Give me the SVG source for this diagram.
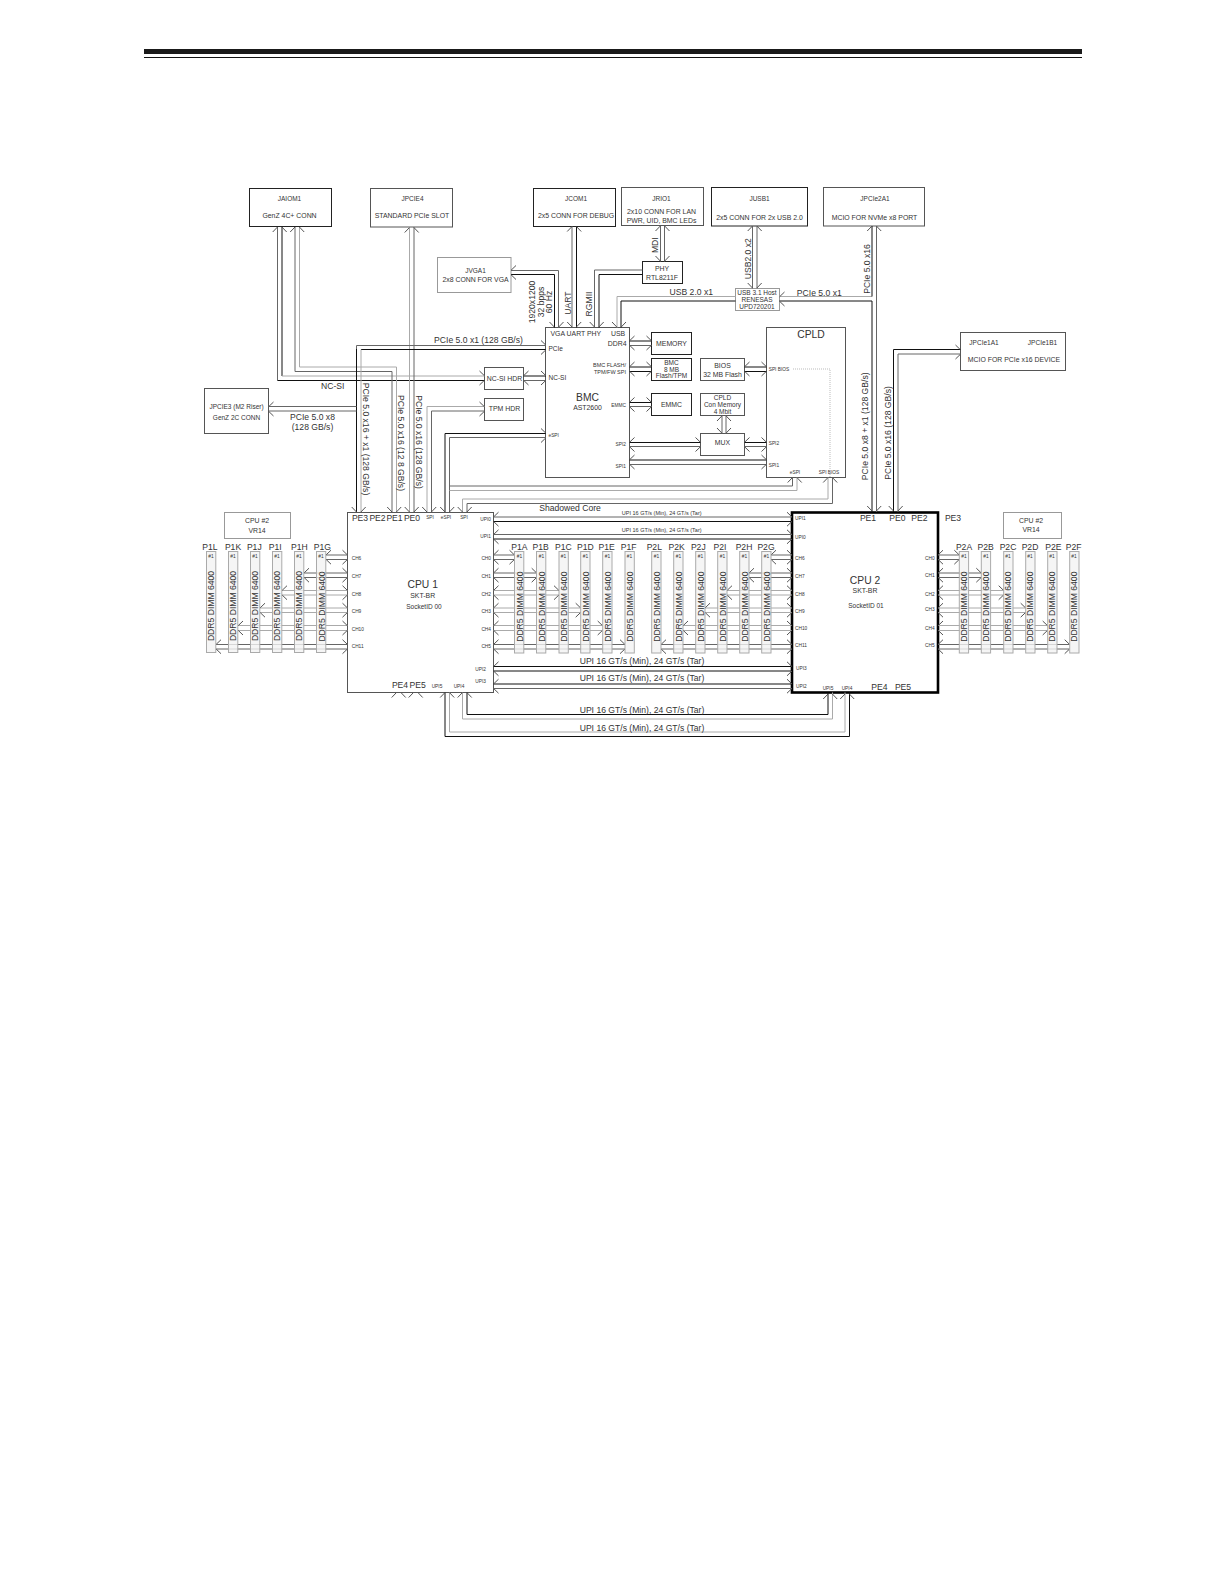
<svg xmlns="http://www.w3.org/2000/svg" width="1224" height="1584" viewBox="0 0 1224 1584">
<style>
text{font-family:"Liberation Sans",Arial,sans-serif;fill:#333;text-anchor:middle;dominant-baseline:central}
.s{text-anchor:start}.e{text-anchor:end}
.f4{font-size:4.8px}.f5{font-size:5.5px}.f6{font-size:6.5px}.f7{font-size:6.9px}.f8{font-size:8.6px}.f10{font-size:10.3px}
.nk,.ng,.nm{fill:#fff}.nk{stroke:#222}.ng{stroke:#999}.nm{stroke:#555}
.dm{fill:#f3f3f3;fill-opacity:.8;stroke:#aaa}
.k,.m,.g,.h{fill:none;stroke-width:1}
.k{stroke:#111}.m{stroke:#666}.g{stroke:#aaa}.h{stroke:#555}
</style>
<defs>
<path id="u" class="h" d="M-7 5L-2.2 0M7 5L2.2 0"/>
<path id="d" class="h" d="M-7 -5L-2.2 0M7 -5L2.2 0"/>
<path id="l" class="h" d="M5 -7L0 -2.2M5 7L0 2.2"/>
<path id="r" class="h" d="M-5 -7L0 -2.2M-5 7L0 2.2"/>
</defs>
<g id="header-rule"><rect x="144" y="49" width="938" height="5" fill="#1a1a1a"/><rect x="144" y="57" width="938" height="1" fill="#111"/></g>

<g id="JAIOM1"><rect class="nk" x="249.5" y="188.5" width="82" height="38"/><text class="f6" x="289.5" y="198.5">JAIOM1</text><text class="f7" x="289.5" y="215">GenZ 4C+ CONN</text></g>
<g id="JPCIE4"><rect class="nm" x="370.5" y="188.5" width="82" height="38.5"/><text class="f6" x="412.5" y="198.5">JPCIE4</text><text class="f7" x="412" y="215">STANDARD PCIe SLOT</text></g>
<g id="JCOM1"><rect class="nk" x="533.5" y="188.5" width="82" height="38"/><text class="f6" x="576" y="198.5">JCOM1</text><text class="f7" x="576" y="215">2x5 CONN FOR DEBUG</text></g>
<g id="JRIO1"><rect class="nm" x="621.5" y="187.5" width="82" height="38"/><text class="f6" x="661.5" y="198.5">JRIO1</text><text class="f7" x="661.5" y="211.5">2x10 CONN FOR LAN</text><text class="f7" x="661.5" y="220.5">PWR, UID, BMC LEDs</text></g>
<g id="JUSB1"><rect class="nk" x="711.5" y="187.5" width="96" height="38.5"/><text class="f6" x="759.5" y="198.5">JUSB1</text><text class="f7" x="759.5" y="217.5">2x5 CONN FOR 2x USB 2.0</text></g>
<g id="JPCIe2A1"><rect class="nm" x="823.5" y="187.5" width="101" height="38.5"/><text class="f6" x="875" y="198.5">JPCIe2A1</text><text class="f7" x="874.5" y="217.5">MCIO FOR NVMe x8 PORT</text></g>
<g id="JPCIe1A1"><rect class="nm" x="960.5" y="332.5" width="105" height="38"/><text class="f6" x="984" y="342.5">JPCIe1A1</text><text class="f6" x="1042.5" y="342.5">JPCIe1B1</text><text class="f7" x="1014" y="359.5">MCIO FOR PCIe x16 DEVICE</text></g>
<g id="JVGA1"><rect class="ng" x="437.5" y="257.5" width="73.5" height="35"/><text class="f6" x="475.5" y="270">JVGA1</text><text class="f7" x="475.5" y="279.5">2x8 CONN FOR VGA</text></g>
<g id="JPCIE3"><rect class="nm" x="204.5" y="388.5" width="64" height="45"/><text class="f6" x="236.5" y="406.5">JPCIE3 (M2 Riser)</text><text class="f6" x="236.5" y="417.5">GenZ 2C CONN</text></g>
<g id="NC-SI-HDR"><rect class="nm" x="484.5" y="367.5" width="39" height="22"/><text class="f7" x="504.5" y="378.5">NC-SI HDR</text></g>
<g id="TPM-HDR"><rect class="nm" x="484.5" y="398.5" width="39" height="22"/><text class="f7" x="504.5" y="408.5">TPM HDR</text></g>
<g id="PHY"><rect class="nk" x="642.5" y="261.5" width="40" height="22"/><text class="f7" x="662" y="268">PHY</text><text class="f7" x="662" y="277.5">RTL8211F</text></g>
<g id="USB-HOST"><rect class="ng" x="735.5" y="288.5" width="44" height="22"/><text class="f6" x="757" y="292">USB 3.1 Host</text><text class="f6" x="757" y="299.5">RENESAS</text><text class="f6" x="757" y="306.5">UPD720201</text></g>
<g id="BMC"><rect class="nm" x="545.5" y="327.5" width="84" height="150"/>
<text class="f7 s" x="550.5" y="333.7">VGA UART PHY</text><text class="f7" x="618" y="333.7">USB</text><text class="f7 e" x="626.5" y="343.5">DDR4</text><text class="f6 s" x="548.5" y="348.5">PCIe</text><text class="f6 s" x="548.5" y="377.5">NC-SI</text><text class="f5 e" x="626" y="365">BMC FLASH/</text><text class="f5 e" x="626" y="372">TPM/FW SPI</text><text class="f10" x="587.5" y="397">BMC</text><text class="f7" x="587.5" y="407.5">AST2600</text><text class="f4 e" x="626" y="405">EMMC</text><text class="f4 s" x="548.5" y="435">eSPI</text><text class="f4 e" x="626" y="444">SPI2</text><text class="f4 e" x="626" y="466">SPI1</text></g>
<g id="CPLD"><rect class="nm" x="766.5" y="327.5" width="79" height="150"/><text class="f10" x="811" y="334">CPLD</text><text class="f4 s" x="768.7" y="369">SPI BIOS</text><text class="f4 s" x="768.7" y="443">SPI2</text><text class="f4 s" x="768.7" y="465.5">SPI1</text><text class="f4" x="795" y="472">eSPI</text><text class="f4" x="829" y="472">SPI BIOS</text><path d="M793 369H830V477" fill="none" stroke="#bbb" stroke-width="1" stroke-dasharray="1 1"/></g>
<g id="MEMORY"><rect class="nk" x="651.5" y="332.5" width="40" height="22"/><text class="f7" x="671.5" y="343.5">MEMORY</text></g>
<g id="BMC-FLASH"><rect class="nk" x="651.5" y="358.5" width="40" height="22"/><text class="f6" x="671.5" y="362.7">BMC</text><text class="f6" x="671.5" y="369">8 MB</text><text class="f6" x="671.5" y="375.7">Flash/TPM</text></g>
<g id="BIOS"><rect class="nm" x="700.5" y="358.5" width="44" height="22"/><text class="f7" x="722.5" y="365">BIOS</text><text class="f7" x="722.5" y="374">32 MB Flash</text></g>
<g id="EMMC"><rect class="nk" x="651.5" y="393.5" width="40" height="22"/><text class="f7" x="671.5" y="404.5">EMMC</text></g>
<g id="CPLD-MEM"><rect class="nm" x="700.5" y="393.5" width="44" height="22"/><text class="f6" x="722.5" y="397.7">CPLD</text><text class="f6" x="722.5" y="404.7">Con Memory</text><text class="f6" x="722.5" y="411.7">4 Mbit</text></g>
<g id="MUX"><rect class="nm" x="700.5" y="433.5" width="44" height="22"/><text class="f7" x="722.5" y="442.7">MUX</text></g>
<g id="CPU2-VR-L"><rect class="ng" x="224.5" y="512.5" width="66" height="26"/><text class="f7" x="257" y="520">CPU #2</text><text class="f7" x="257" y="530">VR14</text></g>
<g id="CPU2-VR-R"><rect class="ng" x="1003.5" y="512.5" width="58" height="26"/><text class="f7" x="1031" y="520">CPU #2</text><text class="f7" x="1031" y="529">VR14</text></g>

<g id="CPU1"><rect class="nm" x="347.5" y="512.5" width="146" height="180"/>
<text class="f8" x="360" y="518">PE3</text><text class="f8" x="377.5" y="518">PE2</text><text class="f8" x="394.5" y="518">PE1</text><text class="f8" x="412" y="518">PE0</text><text class="f4" x="430" y="517">SPI</text><text class="f4" x="446" y="517">eSPI</text><text class="f4" x="464" y="517">SPI</text>
<text class="f10" x="422.7" y="584.7">CPU 1</text><text class="f7" x="422.7" y="595">SKT-BR</text><text class="f6" x="424" y="606.7">SocketID  00</text>
<text class="f4 s" x="351.7" y="558.7">CH6</text><text class="f4 s" x="351.7" y="576.7">CH7</text><text class="f4 s" x="351.7" y="594">CH8</text><text class="f4 s" x="351.7" y="611.3">CH9</text><text class="f4 s" x="351.7" y="629">CH10</text><text class="f4 s" x="351.7" y="646.7">CH11</text>
<text class="f4 e" x="491" y="519">UPI0</text><text class="f4 e" x="491" y="536">UPI1</text><text class="f4 e" x="491" y="558.7">CH0</text><text class="f4 e" x="491" y="576.7">CH1</text><text class="f4 e" x="491" y="594">CH2</text><text class="f4 e" x="491" y="611.3">CH3</text><text class="f4 e" x="491" y="629">CH4</text><text class="f4 e" x="491" y="646.7">CH5</text><text class="f4 e" x="486" y="669">UPI2</text><text class="f4 e" x="486" y="681.7">UPI3</text>
<text class="f8" x="400" y="685.3">PE4</text><text class="f8" x="417.7" y="685.3">PE5</text><text class="f4" x="437" y="686">UPI5</text><text class="f4" x="459" y="686">UPI4</text></g>

<g id="CPU2"><rect x="792" y="512.5" width="146" height="180" fill="#fff" stroke="#000" stroke-width="2.6"/>
<text class="f8" x="868" y="518.3">PE1</text><text class="f8" x="897.3" y="518.3">PE0</text><text class="f8" x="919.3" y="518.3">PE2</text><text class="f8" x="953" y="518.3">PE3</text>
<text class="f10" x="865" y="580">CPU 2</text><text class="f7" x="865" y="590.7">SKT-BR</text><text class="f6" x="866" y="605">SocketID  01</text>
<text class="f4 s" x="795" y="518.7">UPI1</text><text class="f4 s" x="795" y="537">UPI0</text><text class="f4 s" x="795" y="558.7">CH6</text><text class="f4 s" x="795" y="576">CH7</text><text class="f4 s" x="795" y="594">CH8</text><text class="f4 s" x="795" y="611">CH9</text><text class="f4 s" x="795" y="628.7">CH10</text><text class="f4 s" x="795" y="645.7">CH11</text><text class="f4 s" x="796" y="668.3">UPI3</text><text class="f4 s" x="796" y="686.3">UPI2</text>
<text class="f4 e" x="934.7" y="558.3">CH0</text><text class="f4 e" x="934.7" y="575">CH1</text><text class="f4 e" x="934.7" y="594">CH2</text><text class="f4 e" x="934.7" y="609">CH3</text><text class="f4 e" x="934.7" y="628">CH4</text><text class="f4 e" x="934.7" y="645.7">CH5</text>
<text class="f4" x="828" y="688">UPI5</text><text class="f4" x="847" y="688">UPI4</text><text class="f8" x="879.3" y="687">PE4</text><text class="f8" x="903" y="687">PE5</text></g>

<g id="connectors">
<path class="m" d="M277.5 227V380.5"/><path class="k" d="M277.5 380.5H484.5"/>
<path class="k" d="M282 227V376"/><path class="g" d="M282 376H484.5"/>
<path class="m" d="M295 227V371.5H392V512"/><path class="g" d="M299.5 227V367H396.5V512"/>
<path class="g" d="M409.5 227V512"/><path class="m" d="M414 227V512"/>
<path class="m" d="M356.5 512V345.5H546"/><path class="k" d="M361 349.5H546"/><path class="g" d="M361 512V349.5"/>
<path class="k" d="M356.5 349V512"/>
<path class="m" d="M356.5 406.5H268.5M356.5 411H268.5"/>
<path class="k" d="M523.5 376H546"/><path class="m" d="M523.5 380.5H546"/>
<path class="g" d="M427 512V406.5H484.5"/><path class="m" d="M431.5 512V411H484.5"/>
<path class="k" d="M445 512V433.5H546"/><path class="m" d="M449.5 512V437.5H546"/>
<path class="m" d="M449.5 486H792.5V477.5"/><path class="g" d="M449.5 490.5H797V477.5"/>
<path class="g" d="M462.5 512V499H828V477.5"/><path class="m" d="M467 512V503.5H832.5V477.5"/>
<path class="m" d="M511 270.5H558.5V327.5"/><path class="k" d="M511 274.5H554.5V327.5"/>
<path class="m" d="M572 226.5V327.5"/><path class="k" d="M576.5 226.5V327.5"/>
<path class="m" d="M660.5 226V261.5M664.5 226V261.5"/>
<path class="m" d="M642.5 270H594.5V327.5"/><path class="k" d="M642.5 274.5H599V327.5"/>
<path class="m" d="M752.5 226V288.5"/><path class="m" d="M757 226V288.5"/>
<path class="g" d="M735.5 296.5H617V327.5"/><path class="k" d="M735.5 301H621V327.5"/>
<path class="g" d="M779.5 296.5H872"/><path class="k" d="M872 296.5V226"/>
<path class="k" d="M779.5 301H872V512"/><path class="m" d="M876.5 226V512"/>
<path class="k" d="M893.5 512V349.5H960.5"/><path class="m" d="M898 512V354H960.5"/>
<path class="k" d="M629.5 341H651.5"/><path class="m" d="M629.5 345.5H651.5"/>
<path class="k" d="M629.5 367H651.5"/><path class="k" d="M629.5 371.5H651.5"/>
<path class="k" d="M744.5 367H766.5"/><path class="k" d="M744.5 371.5H766.5"/>
<path class="k" d="M629.5 402.5H651.5"/><path class="m" d="M629.5 406.5H651.5"/>
<path class="m" d="M722 415.5V433.5"/><path class="m" d="M726 415.5V433.5"/>
<path class="k" d="M629.5 442.5H700.5"/><path class="m" d="M629.5 446.5H700.5"/>
<path class="k" d="M744.5 442.5H766.5"/><path class="m" d="M744.5 446.5H766.5"/>
<path class="k" d="M629.5 460H766.5"/><path class="m" d="M629.5 464.5H766.5"/>

<path class="m" d="M493.5 517H792"/><path class="k" d="M493.5 521.5H792"/>
<path class="m" d="M493.5 534.5H792"/><path class="k" d="M493.5 539H792"/>
<path class="k" d="M493.5 666.5H792"/><path class="k" d="M493.5 671H792"/>
<path class="k" d="M493.5 684H792"/><path class="m" d="M493.5 688.5H792"/>
<path class="k" d="M467 692.5V714.5H828V692.5"/><path class="g" d="M462.5 692.5V719H832.5V692.5"/>
<path class="g" d="M449.5 692.5V732H845V692.5"/><path class="k" d="M445 692.5V736.5H849.5V692.5"/>

<path class="m" d="M347.5 555H326M347.5 559.5H326"/><path class="m" d="M347.5 573H304M347.5 577.5H304"/><path class="g" d="M347.5 590.5H282M347.5 595H282"/><path class="g" d="M347.5 608H260M347.5 612.5H260"/><path class="g" d="M347.5 625.5H238M347.5 630.5H238"/><path class="m" d="M347.5 644.5H216M347.5 649H216"/>
<path class="m" d="M493.5 555H514.5M493.5 559.5H514.5"/><path class="m" d="M493.5 573H536.7M493.5 577.5H536.7"/><path class="g" d="M493.5 590.5H559M493.5 595H559"/><path class="g" d="M493.5 608H580.7M493.5 612.5H580.7"/><path class="g" d="M493.5 625.5H602.7M493.5 630.5H602.7"/><path class="m" d="M493.5 644.5H625M493.5 649H625"/>
<path class="m" d="M792 555H771M792 559.5H771"/><path class="m" d="M792 573H749M792 577.5H749"/><path class="g" d="M792 590.5H727M792 595H727"/><path class="g" d="M792 608H705M792 612.5H705"/><path class="g" d="M792 625.5H683M792 630.5H683"/><path class="m" d="M792 644.5H661M792 649H661"/>
<path class="m" d="M938 555H959.3M938 559.5H959.3"/><path class="m" d="M938 573H981.3M938 577.5H981.3"/><path class="g" d="M938 590.5H1003.7M938 595H1003.7"/><path class="g" d="M938 608H1025.7M938 612.5H1025.7"/><path class="g" d="M938 625.5H1047.7M938 630.5H1047.7"/><path class="m" d="M938 644.5H1069.7M938 649H1069.7"/>

<use href="#u" x="279.7" y="227"/><use href="#u" x="297.2" y="227"/><use href="#u" x="411.7" y="227.5"/><use href="#u" x="574.2" y="226.5"/><use href="#u" x="662.5" y="226"/><use href="#u" x="754.7" y="226"/><use href="#u" x="874.2" y="226"/>
<use href="#d" x="662.5" y="261"/><use href="#d" x="754.7" y="288"/>
<use href="#l" x="511" y="272.5"/><use href="#d" x="556.5" y="327"/><use href="#d" x="574.2" y="327"/><use href="#d" x="596.7" y="327"/><use href="#d" x="619" y="327"/>
<use href="#l" x="779.5" y="299"/><use href="#r" x="960.5" y="352"/>
<use href="#r" x="546" y="347.5"/><use href="#r" x="484.5" y="378"/><use href="#l" x="523.5" y="378"/><use href="#r" x="546" y="378"/><use href="#r" x="484.5" y="409"/><use href="#r" x="546" y="435.5"/><use href="#l" x="268.5" y="409"/>
<use href="#l" x="629.5" y="343"/><use href="#r" x="651.5" y="343"/><use href="#l" x="629.5" y="369"/><use href="#r" x="651.5" y="369"/><use href="#l" x="744.5" y="369"/><use href="#r" x="766.5" y="369"/><use href="#l" x="629.5" y="404.5"/><use href="#r" x="651.5" y="404.5"/>
<use href="#u" x="724" y="416"/><use href="#d" x="724" y="433"/><use href="#l" x="629.5" y="444.5"/><use href="#r" x="700.5" y="444.5"/><use href="#l" x="744.5" y="444.5"/><use href="#r" x="766.5" y="444.5"/><use href="#l" x="629.5" y="462"/><use href="#r" x="766.5" y="462"/>
<use href="#u" x="794.7" y="477.5"/><use href="#u" x="830.2" y="477.5"/>
<use href="#d" x="358.7" y="512"/><use href="#d" x="394.2" y="512"/><use href="#d" x="411.7" y="512"/><use href="#d" x="429.2" y="512"/><use href="#d" x="447.2" y="512"/><use href="#d" x="464.7" y="512"/><use href="#d" x="874.2" y="511"/><use href="#d" x="895.7" y="511"/>
<use href="#l" x="493.5" y="519.2"/><use href="#r" x="792" y="519.2"/><use href="#l" x="493.5" y="536.8"/><use href="#r" x="792" y="536.8"/><use href="#l" x="493.5" y="668.8"/><use href="#r" x="792" y="668.8"/><use href="#l" x="493.5" y="686.2"/><use href="#r" x="792" y="686.2"/>
<use href="#u" x="398.7" y="692.5"/><use href="#u" x="415.7" y="692.5"/><use href="#u" x="447.2" y="692.5"/><use href="#u" x="464.7" y="692.5"/><use href="#u" x="830.2" y="694"/><use href="#u" x="847.2" y="694"/>
<use href="#r" x="347.5" y="557.2"/><use href="#r" x="347.5" y="575.2"/><use href="#r" x="347.5" y="592.7"/><use href="#r" x="347.5" y="610.2"/><use href="#r" x="347.5" y="628"/><use href="#r" x="347.5" y="646.7"/>
<use href="#l" x="326" y="557.2"/><use href="#l" x="304" y="575.2"/><use href="#l" x="282" y="592.7"/><use href="#l" x="260" y="610.2"/><use href="#l" x="238" y="628"/><use href="#l" x="216" y="646.7"/>
<use href="#l" x="493.5" y="557.2"/><use href="#l" x="493.5" y="575.2"/><use href="#l" x="493.5" y="592.7"/><use href="#l" x="493.5" y="610.2"/><use href="#l" x="493.5" y="628"/><use href="#l" x="493.5" y="646.7"/>
<use href="#r" x="514.5" y="557.2"/><use href="#r" x="536.7" y="575.2"/><use href="#r" x="559" y="592.7"/><use href="#r" x="580.7" y="610.2"/><use href="#r" x="602.7" y="628"/><use href="#r" x="625" y="646.7"/>
<use href="#r" x="792" y="557.2"/><use href="#r" x="792" y="575.2"/><use href="#r" x="792" y="592.7"/><use href="#r" x="792" y="610.2"/><use href="#r" x="792" y="628"/><use href="#r" x="792" y="646.7"/>
<use href="#l" x="771" y="557.2"/><use href="#l" x="749" y="575.2"/><use href="#l" x="727" y="592.7"/><use href="#l" x="705" y="610.2"/><use href="#l" x="683" y="628"/><use href="#l" x="661" y="646.7"/>
<use href="#l" x="938" y="557.2"/><use href="#l" x="938" y="575.2"/><use href="#l" x="938" y="592.7"/><use href="#l" x="938" y="610.2"/><use href="#l" x="938" y="628"/><use href="#l" x="938" y="646.7"/>
<use href="#r" x="959.3" y="557.2"/><use href="#r" x="981.3" y="575.2"/><use href="#r" x="1003.7" y="592.7"/><use href="#r" x="1025.7" y="610.2"/><use href="#r" x="1047.7" y="628"/><use href="#r" x="1069.7" y="646.7"/>

<text class="f8" x="478.5" y="339.5">PCIe 5.0 x1 (128 GB/s)</text>
<text class="f8" x="332.7" y="386">NC-SI</text>
<text class="f8" x="312.5" y="417">PCIe 5.0 x8</text><text class="f8" x="312.5" y="427">(128 GB/s)</text>
<text class="f8" transform="translate(365.7,439) rotate(90)">PCIe 5.0 x16 + x1 (128 GB/s)</text>
<text class="f8" transform="translate(401,443) rotate(90)">PCIe 5.0 x16 (12 8 GB/s)</text>
<text class="f8" transform="translate(419.3,442) rotate(90)">PCIe 5.0 x16 (128 GB/s)</text>
<text class="f8" transform="translate(864.7,426.3) rotate(-90)">PCIe 5.0 x8 + x1 (128 GB/s)</text>
<text class="f8" transform="translate(888.3,433) rotate(-90)">PCIe 5.0 x16 (128 GB/s)</text>
<text class="f8" transform="translate(866.7,269) rotate(-90)">PCIe 5.0 x16</text>
<text class="f8" transform="translate(747.7,258.7) rotate(-90)">USB2.0 x2</text>
<text class="f8" transform="translate(655,245.2) rotate(-90)">MDI</text>
<text class="f8" transform="translate(589,304) rotate(-90)">RGMII</text>
<text class="f8" transform="translate(567.7,303) rotate(-90)">UART</text>
<text class="f8" transform="translate(532,302) rotate(-90)">1920x1200</text>
<text class="f8" transform="translate(540.7,302) rotate(-90)">32 bpps</text>
<text class="f8" transform="translate(548.7,302) rotate(-90)">60 Hz</text>
<text class="f8" x="691.3" y="292">USB 2.0 x1</text>
<text class="f8" x="819.3" y="293">PCIe 5.0 x1</text>
<text class="f8" x="570" y="507.7">Shadowed Core</text>
<text class="f5" x="661.7" y="513.3">UPI 16 GT/s (Min), 24 GT/s (Tar)</text>
<text class="f5" x="661.7" y="530.3">UPI 16 GT/s (Min), 24 GT/s (Tar)</text>
<text class="f8" x="642" y="661">UPI 16 GT/s (Min), 24 GT/s (Tar)</text>
<text class="f8" x="642" y="678.3">UPI 16 GT/s (Min), 24 GT/s (Tar)</text>
<text class="f8" x="642" y="710">UPI 16 GT/s (Min), 24 GT/s (Tar)</text>
<text class="f8" x="642" y="727.7">UPI 16 GT/s (Min), 24 GT/s (Tar)</text>
</g>

<g id="dimm-P1L"><rect class="dm" x="206.5" y="551.5" width="9.3" height="101"/><text class="f8" x="210" y="547">P1L</text><text class="f4" x="211" y="556">#1</text><text class="f8" transform="translate(211,606) rotate(-90)">DDR5 DIMM 6400</text></g>
<g id="dimm-P1K"><rect class="dm" x="228.5" y="551.5" width="9.3" height="101"/><text class="f8" x="233" y="547">P1K</text><text class="f4" x="233" y="556">#1</text><text class="f8" transform="translate(233,606) rotate(-90)">DDR5 DIMM 6400</text></g>
<g id="dimm-P1J"><rect class="dm" x="250.5" y="551.5" width="9.3" height="101"/><text class="f8" x="254.3" y="547">P1J</text><text class="f4" x="255" y="556">#1</text><text class="f8" transform="translate(255,606) rotate(-90)">DDR5 DIMM 6400</text></g>
<g id="dimm-P1I"><rect class="dm" x="272.5" y="551.5" width="9.3" height="101"/><text class="f8" x="275.3" y="547">P1I</text><text class="f4" x="277" y="556">#1</text><text class="f8" transform="translate(277,606) rotate(-90)">DDR5 DIMM 6400</text></g>
<g id="dimm-P1H"><rect class="dm" x="294.5" y="551.5" width="9.3" height="101"/><text class="f8" x="299.3" y="547">P1H</text><text class="f4" x="299" y="556">#1</text><text class="f8" transform="translate(299,606) rotate(-90)">DDR5 DIMM 6400</text></g>
<g id="dimm-P1G"><rect class="dm" x="316.5" y="551.5" width="9.3" height="101"/><text class="f8" x="322.3" y="547">P1G</text><text class="f4" x="321" y="556">#1</text><text class="f8" transform="translate(321.5,606.5) rotate(-90)">DDR5 DIMM 6400</text></g>
<g id="dimm-P1A"><rect class="dm" x="514.5" y="551.5" width="9.3" height="101.5"/><text class="f8" x="519.3" y="547.3">P1A</text><text class="f4" x="519.5" y="556">#1</text><text class="f8" transform="translate(519.5,606.7) rotate(-90)">DDR5 DIMM 6400</text></g>
<g id="dimm-P1B"><rect class="dm" x="536.5" y="551.5" width="9.3" height="101.5"/><text class="f8" x="540.7" y="547.3">P1B</text><text class="f4" x="541.5" y="556">#1</text><text class="f8" transform="translate(541.5,606.7) rotate(-90)">DDR5 DIMM 6400</text></g>
<g id="dimm-P1C"><rect class="dm" x="559" y="551.5" width="9.3" height="101.5"/><text class="f8" x="563.3" y="547.3">P1C</text><text class="f4" x="563.5" y="556">#1</text><text class="f8" transform="translate(563.5,606.7) rotate(-90)">DDR5 DIMM 6400</text></g>
<g id="dimm-P1D"><rect class="dm" x="580.7" y="551.5" width="9.3" height="101.5"/><text class="f8" x="585.3" y="547.3">P1D</text><text class="f4" x="585.5" y="556">#1</text><text class="f8" transform="translate(585.5,606.7) rotate(-90)">DDR5 DIMM 6400</text></g>
<g id="dimm-P1E"><rect class="dm" x="602.7" y="551.5" width="9.3" height="101.5"/><text class="f8" x="606.7" y="547.3">P1E</text><text class="f4" x="607.5" y="556">#1</text><text class="f8" transform="translate(607.5,606.7) rotate(-90)">DDR5 DIMM 6400</text></g>
<g id="dimm-P1F"><rect class="dm" x="625" y="551.5" width="9.3" height="101.5"/><text class="f8" x="628.7" y="547.3">P1F</text><text class="f4" x="629.5" y="556">#1</text><text class="f8" transform="translate(629.5,606.7) rotate(-90)">DDR5 DIMM 6400</text></g>
<g id="dimm-P2L"><rect class="dm" x="651.7" y="551.5" width="9.3" height="101.5"/><text class="f8" x="654.3" y="547.3">P2L</text><text class="f4" x="656.5" y="556">#1</text><text class="f8" transform="translate(656.5,606.7) rotate(-90)">DDR5 DIMM 6400</text></g>
<g id="dimm-P2K"><rect class="dm" x="673.7" y="551.5" width="9.3" height="101.5"/><text class="f8" x="676.7" y="547.3">P2K</text><text class="f4" x="678.5" y="556">#1</text><text class="f8" transform="translate(678.5,606.7) rotate(-90)">DDR5 DIMM 6400</text></g>
<g id="dimm-P2J"><rect class="dm" x="695.7" y="551.5" width="9.3" height="101.5"/><text class="f8" x="698.3" y="547.3">P2J</text><text class="f4" x="700.5" y="556">#1</text><text class="f8" transform="translate(700.5,606.7) rotate(-90)">DDR5 DIMM 6400</text></g>
<g id="dimm-P2I"><rect class="dm" x="717.7" y="551.5" width="9.3" height="101.5"/><text class="f8" x="720" y="547.3">P2I</text><text class="f4" x="722.5" y="556">#1</text><text class="f8" transform="translate(722.5,606.7) rotate(-90)">DDR5 DIMM 6400</text></g>
<g id="dimm-P2H"><rect class="dm" x="739.7" y="551.5" width="9.3" height="101.5"/><text class="f8" x="744" y="547.3">P2H</text><text class="f4" x="744.5" y="556">#1</text><text class="f8" transform="translate(744.5,606.7) rotate(-90)">DDR5 DIMM 6400</text></g>
<g id="dimm-P2G"><rect class="dm" x="761.7" y="551.5" width="9.3" height="101.5"/><text class="f8" x="766" y="547.3">P2G</text><text class="f4" x="766.5" y="556">#1</text><text class="f8" transform="translate(766.5,606.7) rotate(-90)">DDR5 DIMM 6400</text></g>
<g id="dimm-P2A"><rect class="dm" x="959.3" y="551.5" width="9.3" height="101.5"/><text class="f8" x="964" y="547.3">P2A</text><text class="f4" x="964" y="556">#1</text><text class="f8" transform="translate(964,606.7) rotate(-90)">DDR5 DIMM 6400</text></g>
<g id="dimm-P2B"><rect class="dm" x="981.3" y="551.5" width="9.3" height="101.5"/><text class="f8" x="985.7" y="547.3">P2B</text><text class="f4" x="986" y="556">#1</text><text class="f8" transform="translate(986,606.7) rotate(-90)">DDR5 DIMM 6400</text></g>
<g id="dimm-P2C"><rect class="dm" x="1003.7" y="551.5" width="9.3" height="101.5"/><text class="f8" x="1008" y="547.3">P2C</text><text class="f4" x="1008" y="556">#1</text><text class="f8" transform="translate(1008,606.7) rotate(-90)">DDR5 DIMM 6400</text></g>
<g id="dimm-P2D"><rect class="dm" x="1025.7" y="551.5" width="9.3" height="101.5"/><text class="f8" x="1030" y="547.3">P2D</text><text class="f4" x="1030" y="556">#1</text><text class="f8" transform="translate(1030,606.7) rotate(-90)">DDR5 DIMM 6400</text></g>
<g id="dimm-P2E"><rect class="dm" x="1047.7" y="551.5" width="9.3" height="101.5"/><text class="f8" x="1053.3" y="547.3">P2E</text><text class="f4" x="1052" y="556">#1</text><text class="f8" transform="translate(1052,606.7) rotate(-90)">DDR5 DIMM 6400</text></g>
<g id="dimm-P2F"><rect class="dm" x="1069.7" y="551.5" width="9.3" height="101.5"/><text class="f8" x="1073.7" y="547.3">P2F</text><text class="f4" x="1074" y="556">#1</text><text class="f8" transform="translate(1074,606.7) rotate(-90)">DDR5 DIMM 6400</text></g>
</svg>
